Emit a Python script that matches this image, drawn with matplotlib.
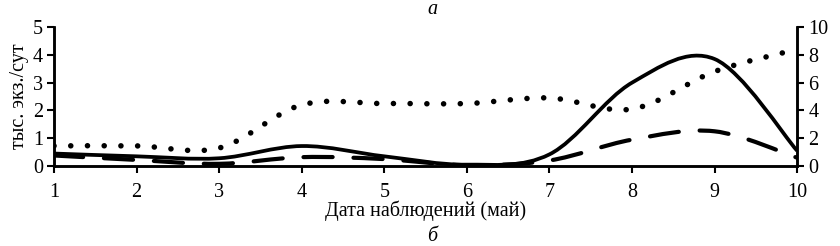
import numpy as np
import matplotlib
matplotlib.use("Agg")
import matplotlib.pyplot as plt
from matplotlib.path import Path
from matplotlib.patches import PathPatch

plt.rcParams["font.family"] = ["Liberation Serif", "DejaVu Serif"]

# observation dates (May)
days = [1, 2, 3, 4, 5, 6, 7, 8, 9, 10]
# left axis, thousand ind./day
solid = [0.45, 0.35, 0.28, 0.72, 0.35, 0.05, 0.42, 3.0, 3.85, 0.55]
dashed = [0.38, 0.22, 0.08, 0.32, 0.25, 0.03, 0.2, 0.95, 1.25, 0.3]
# right axis
dotted = [1.45, 1.45, 1.3, 4.4, 4.5, 4.5, 4.9, 4.1, 6.8, 8.4]


def smooth_path(x, y):
    """Excel-style smoothed line as cubic Bezier segments."""
    x = np.asarray(x, float)
    y = np.asarray(y, float)
    pts = np.column_stack([x, y])
    verts = [pts[0]]
    codes = [Path.MOVETO]
    n = len(pts)
    for i in range(n - 1):
        p0 = pts[max(i - 1, 0)]
        p1 = pts[i]
        p2 = pts[i + 1]
        p3 = pts[min(i + 2, n - 1)]
        c1 = p1 + (p2 - p0) / 6.0
        c2 = p2 - (p3 - p1) / 6.0
        verts += [c1, c2, p2]
        codes += [Path.CURVE4] * 3
    return Path(verts, codes)


FS = 14.5
fig = plt.figure(figsize=(8.4, 2.46), dpi=100)
ax = fig.add_axes([0.0643, 0.325, 0.8847, 0.565])
ax2 = ax.twinx()

ax.add_patch(PathPatch(smooth_path(days, solid), fill=False, color="black",
                       lw=2.7, capstyle="butt"))
ax.add_patch(PathPatch(smooth_path(days, dashed), fill=False, color="black",
                       lw=3.0, linestyle=(0, (7, 5)), capstyle="round"))
ax2.add_patch(PathPatch(smooth_path(days, dotted), fill=False, color="black",
                        lw=4.0, linestyle=(0, (0.01, 3.0)),
                        capstyle="round"))

ax.set_xlim(1, 10)
ax.set_ylim(0, 5)
ax2.set_ylim(0, 10)
ax.set_xticks(days)
ax.set_yticks(range(0, 6))
ax2.set_yticks(range(0, 11, 2))

for a in (ax, ax2):
    a.spines["top"].set_visible(False)
    for s in a.spines.values():
        s.set_linewidth(1.8)
    a.tick_params(width=1.5, length=5, labelsize=FS, direction="out", pad=3)
ax.tick_params(axis="x", length=5, pad=7)

ax.set_xlabel("Дата наблюдений (май)", fontsize=FS, labelpad=-1)
ax.set_ylabel("тыс. экз./сут", fontsize=FS, labelpad=3)
fig.text(0.515, 0.962, "а", ha="center", va="center", fontsize=FS,
         style="italic")
fig.text(0.515, 0.038, "б", ha="center", va="center", fontsize=FS,
         style="italic")

fig.savefig("out.png", dpi=100)
